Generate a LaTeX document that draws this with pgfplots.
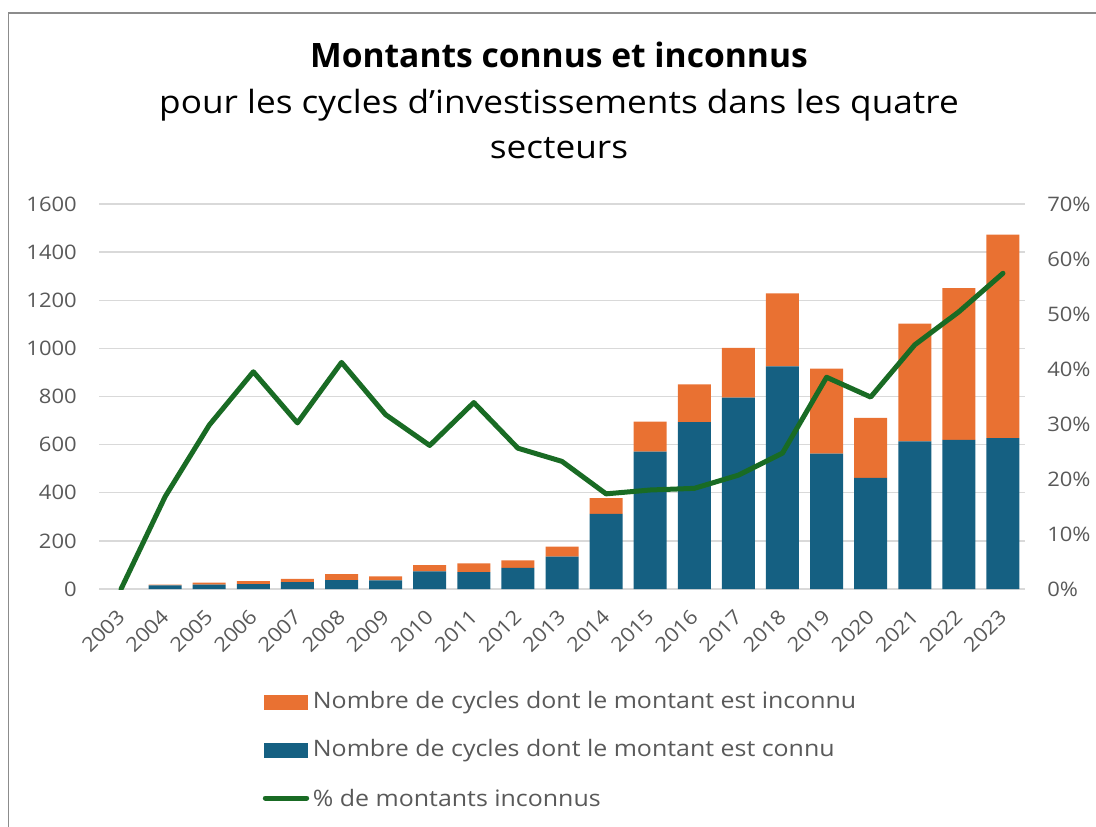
\documentclass[border=0pt]{standalone}
\usepackage{fontspec}
\setmainfont{Open Sans}
\newfontfamily\widefont{Open Sans}[FakeStretch=1.1]
\usepackage{pgfplots}
\pgfplotsset{compat=1.18}
\usepackage{pgfplotstable}

\definecolor{knownC}{HTML}{156082}
\definecolor{unknownC}{HTML}{E97132}
\definecolor{pctC}{HTML}{196B24}
\definecolor{gridC}{HTML}{D9D9D9}
\definecolor{labelC}{HTML}{595959}
\definecolor{borderC}{HTML}{8C8C8C}

% year index, known, unknown, % unknown
\pgfplotstableread{
idx known unknown pct
0   0   0   0
1   15  3   16.8
2   18  8   29.8
3   20  13  39.5
4   29  13  30.2
5   37  25  41.2
6   36  17  31.7
7   73  26  26.1
8   70  36  33.9
9   88  31  25.6
10  135 41  23.2
11  312 66  17.3
12  571 125 18.0
13  694 156 18.3
14  795 207 20.7
15  925 304 24.7
16  563 353 38.5
17  462 249 34.9
18  613 490 44.4
19  620 630 50.4
20  627 846 57.4
}\datatable

\pgfplotsset{
  common/.style={
    at={(74.25pt,-441.75pt)}, anchor=south west,
    width=694.5pt, height=288.75pt, scale only axis,
    xmin=-0.5, xmax=20.5,
    axis line style={draw=none},
    tick style={draw=none},
    /pgf/number format/assume math mode=true,
    /pgf/number format/1000 sep={},
    ticklabel style={font=\widefont\fontsize{15}{18}\selectfont, text=labelC},
  }
}

\begin{document}
\begin{tikzpicture}
\path[use as bounding box] (0,0) rectangle (822pt,-620.25pt);
\draw[borderC, line width=1.1pt] (6.4pt,-660pt) -- (6.4pt,-9.75pt) -- (860pt,-9.75pt);

\node[font=\fontsize{25.2}{28}\selectfont\bfseries, anchor=base] at (419.25pt,-50.8pt) {Montants connus et inconnus};
\node[font=\widefont\fontsize{24}{28}\selectfont, anchor=base] at (419.25pt,-85pt) {pour les cycles d’investissements dans les quatre};
\node[font=\widefont\fontsize{24}{28}\selectfont, anchor=base] at (419.25pt,-118.7pt) {secteurs};

\begin{axis}[common,
    ymin=0, ymax=1600, ytick={0,200,...,1600},
    ymajorgrids, grid style={color=gridC, line width=1.1pt},
    yticklabel style={inner sep=0pt, xshift=-16.5pt},
    xtick={0,...,20},
    xticklabels={2003,2004,2005,2006,2007,2008,2009,2010,2011,2012,2013,2014,2015,2016,2017,2018,2019,2020,2021,2022,2023},
    xticklabel style={inner sep=0pt, yshift=-18pt, rotate=45, anchor=east},
    ybar stacked, bar width=24.75pt,
]
\addplot[fill=knownC, draw=none] table[x=idx, y=known] {\datatable};
\addplot[fill=unknownC, draw=none] table[x=idx, y=unknown] {\datatable};
\end{axis}

\begin{axis}[common,
    axis x line=none, axis y line*=right,
    ymin=0, ymax=70, ytick={0,10,...,70},
    yticklabel={\pgfmathprintnumber{\tick}\%},
    yticklabel style={inner sep=0pt, xshift=16.5pt, anchor=west},
]
\addplot[pctC, line width=3.75pt, line join=round, line cap=round] table[x=idx, y=pct] {\datatable};
\end{axis}

% legend
\tikzset{legtext/.style={anchor=west, inner sep=0pt, text=labelC, font=\widefont\fontsize{17}{19}\selectfont}}
\fill[unknownC] (198pt,-521.25pt) rectangle (231pt,-532.5pt);
\node[legtext] at (234.5pt,-526.9pt) {Nombre de cycles dont le montant est inconnu};
\fill[knownC] (198pt,-557.25pt) rectangle (231pt,-568.5pt);
\node[legtext] at (234.5pt,-562.9pt) {Nombre de cycles dont le montant est connu};
\draw[pctC, line width=3.75pt, line cap=round] (199pt,-598.5pt) -- (230pt,-598.5pt);
\node[legtext] at (234.5pt,-598.5pt) {\% de montants inconnus};
\end{tikzpicture}
\end{document}
